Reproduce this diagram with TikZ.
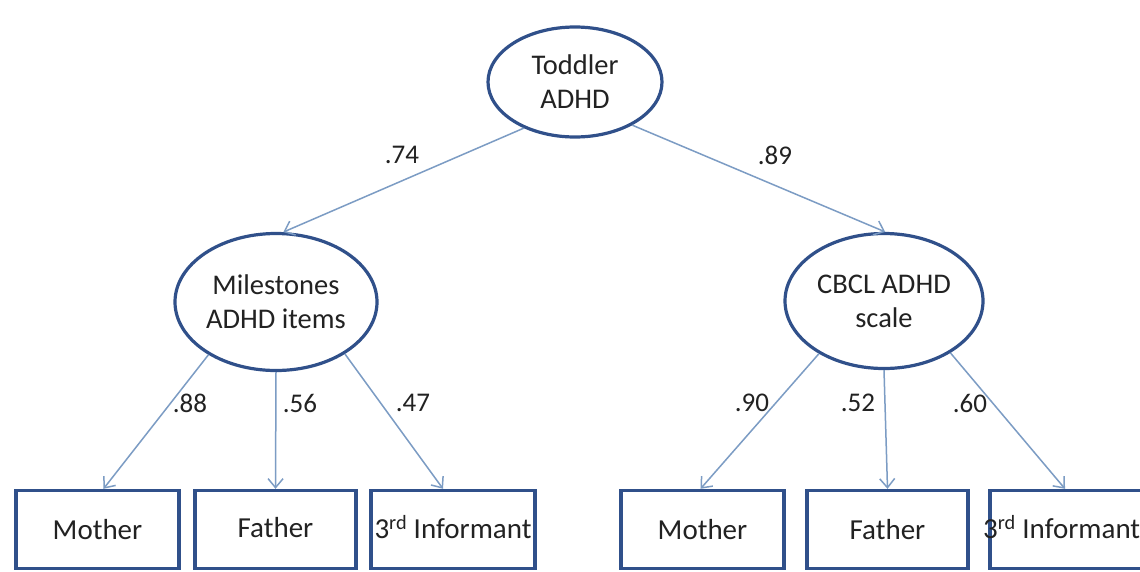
\documentclass[tikz,border=0pt]{standalone}
\usepackage{fontspec}
\setmainfont{Carlito}
\usetikzlibrary{shapes.geometric,arrows.meta}
\definecolor{navy}{HTML}{30508A}
\definecolor{arrowc}{HTML}{7C9CC4}
\definecolor{txt}{HTML}{222222}
\begin{document}
\begin{tikzpicture}[x=1pt,y=-1pt,
  every node/.style={font=\fontsize{27}{33}\selectfont, text=txt},
  latent/.style={ellipse, draw=navy, line width=3.2pt, align=center, inner sep=0pt, font=\fontsize{28.5}{34}\selectfont},
  obsbox/.style={rectangle, draw=navy, line width=3.4pt, minimum height=78pt, inner sep=0pt, font=\fontsize{29}{34}\selectfont},
  path/.style={draw=arrowc, line width=1.5pt, -{Straight Barb[length=9pt,width=15pt]}},
  coef/.style={inner sep=0pt}]
\clip (0,0) rectangle (1140,571);
\fill[white] (0,0) rectangle (1140,571);
% latent variables
\node[latent, minimum width=174pt, minimum height=110pt] (tod) at (575,82) {Toddler\\ADHD};
\node[latent, minimum width=202pt, minimum height=137pt] (mil) at (276,302) {Milestones\\ADHD items};
\node[latent, minimum width=198pt, minimum height=135pt] (cb) at (884,301) {CBCL ADHD\\scale};
% observed boxes
\node[obsbox, minimum width=163pt] (m1) at (97.5,529.5) {Mother};
\node[obsbox, minimum width=161pt] (f1) at (275.5,529.5) {\raisebox{5pt}{Father}};
\node[obsbox, minimum width=164pt] (i1) at (453,529.5) {\raisebox{5pt}{3\textsuperscript{rd} Informant}};
\node[obsbox, minimum width=163pt] (m2) at (702.5,529.5) {Mother};
\node[obsbox, minimum width=161pt] (f2) at (887.5,529.5) {Father};
\node[obsbox, minimum width=164pt] (i2) at (1072,529.5) {};
\node[inner sep=0pt, anchor=west, font=\fontsize{29}{34}\selectfont] (i2t) at (983,527) {3\textsuperscript{rd} Informant};
% paths
\draw[path] (tod.222) -- (mil.84);
\draw[path] (tod.323) -- (cb.89);
\draw[path] (mil.218) -- ([xshift=6pt]m1.north);
\draw[path] (mil.south) -- (f1.north);
\draw[path] (mil.323) -- ([xshift=-10pt]i1.north);
\draw[path] (cb.219) -- ([xshift=-2pt]m2.north);
\draw[path] (cb.south) -- (f2.north);
\draw[path] (cb.322) -- ([xshift=-7pt]i2.north);
% coefficients
\node[coef] (c1) at (402,155) {.74};
\node[coef] (c2) at (775,155) {.89};
\node[coef] (c3) at (190,403) {.88};
\node[coef] (c4) at (300,403) {.56};
\node[coef] (c5) at (413,403) {.47};
\node[coef] (c6) at (752,403) {.90};
\node[coef] (c7) at (858,403) {.52};
\node[coef] (c8) at (970,403) {.60};
\end{tikzpicture}
\end{document}
